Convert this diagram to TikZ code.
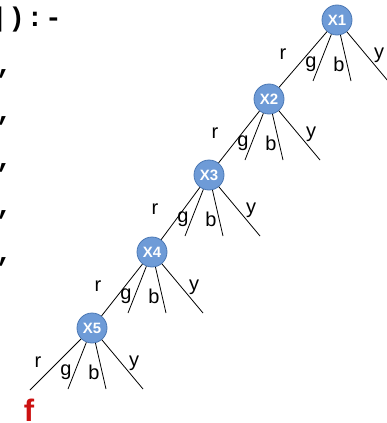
\documentclass[tikz,border=0pt]{standalone}
\usepackage{fontspec}
\setmainfont{Liberation Sans}
\newfontfamily\codefont[LetterSpace=8]{Liberation Mono}
\usepackage{xcolor}
\usepackage{tikz}
\usetikzlibrary{positioning}
\definecolor{varblue}{RGB}{110,155,215}
\definecolor{varedge}{RGB}{75,120,180}
\definecolor{failred}{RGB}{204,17,17}
\tikzstyle{var}=[circle, draw=varedge, line width=0.8pt, fill=varblue, minimum size=30pt,
        inner sep=0pt, text=white, font=\fontsize{15}{15}\selectfont\bfseries]
\tikzstyle{branch}=[line width=0.8pt]
\tikzstyle{lbl}=[inner sep=0pt, font=\fontsize{20}{20}\selectfont]
\tikzstyle{code}=[inner sep=0pt, anchor=base west, font=\fontsize{27}{27}\codefont\bfseries]

\begin{document}
\begin{tikzpicture}[x=1pt, y=-1pt, on grid]
        \useasboundingbox (0,0) rectangle (387,423);
        \clip (0,0) rectangle (387,423);
        % clause head, cut at the left edge
        \node (head) [code] at (-10,26) {]):-};
        \node (row1) [code] at ([xshift=6pt, yshift=-47pt]head.base west) {,};
        \node (row2) [code] at ([yshift=-47pt]row1.base west) {,};
        \node (row3) [code] at ([yshift=-47pt]row2.base west) {,};
        \node (row4) [code] at ([yshift=-47pt]row3.base west) {,};
        \node (row5) [code] at ([yshift=-47pt]row4.base west) {,};
        % variables
        \node (X1) [var] at (337,20) {X1};
        \node (X2) [var, below left=79pt and 68pt of X1] {X2};
        \node (X3) [var, below left=76pt and 60pt of X2] {X3};
        \node (X4) [var, below left=77pt and 57pt of X3] {X4};
        \node (X5) [var, below left=76pt and 60pt of X4] {X5};
        % loose ends of the branches
        \coordinate[below left=61pt and 24pt of X1] (X1g);
        \coordinate[below right=61pt and 14pt of X1] (X1b);
        \coordinate[below right=61pt and 51pt of X1] (X1y);
        \coordinate[below left=61pt and 24pt of X2] (X2g);
        \coordinate[below right=61pt and 14pt of X2] (X2b);
        \coordinate[below right=61pt and 51pt of X2] (X2y);
        \coordinate[below left=61pt and 24pt of X3] (X3g);
        \coordinate[below right=61pt and 14pt of X3] (X3b);
        \coordinate[below right=61pt and 51pt of X3] (X3y);
        \coordinate[below left=61pt and 24pt of X4] (X4g);
        \coordinate[below right=61pt and 14pt of X4] (X4b);
        \coordinate[below right=61pt and 51pt of X4] (X4y);
        \coordinate[below left=62pt and 62pt of X5] (X5r);
        \coordinate[below left=61pt and 24pt of X5] (X5g);
        \coordinate[below right=61pt and 14pt of X5] (X5b);
        \coordinate[below right=61pt and 51pt of X5] (X5y);
        % branches
        \draw[branch] (X1) -- (X2);
        \draw[branch] (X1) -- (X1g);
        \draw[branch] (X1) -- (X1b);
        \draw[branch] (X1) -- (X1y);
        \draw[branch] (X2) -- (X3);
        \draw[branch] (X2) -- (X2g);
        \draw[branch] (X2) -- (X2b);
        \draw[branch] (X2) -- (X2y);
        \draw[branch] (X3) -- (X4);
        \draw[branch] (X3) -- (X3g);
        \draw[branch] (X3) -- (X3b);
        \draw[branch] (X3) -- (X3y);
        \draw[branch] (X4) -- (X5);
        \draw[branch] (X4) -- (X4g);
        \draw[branch] (X4) -- (X4b);
        \draw[branch] (X4) -- (X4y);
        \draw[branch] (X5) -- (X5r);
        \draw[branch] (X5) -- (X5g);
        \draw[branch] (X5) -- (X5b);
        \draw[branch] (X5) -- (X5y);
        % branch labels
        \node (X1-r) [lbl, below left=34pt and 54pt of X1] {r};
        \node (X1-g) [lbl, below left=44pt and 26pt of X1] {g};
        \node (X1-b) [lbl, below right=44pt and 2pt of X1] {b};
        \node (X1-y) [lbl, below right=35pt and 42pt of X1] {y};
        \node (X2-r) [lbl, below left=34pt and 54pt of X2] {r};
        \node (X2-g) [lbl, below left=44pt and 26pt of X2] {g};
        \node (X2-b) [lbl, below right=44pt and 2pt of X2] {b};
        \node (X2-y) [lbl, below right=35pt and 42pt of X2] {y};
        \node (X3-r) [lbl, below left=34pt and 54pt of X3] {r};
        \node (X3-g) [lbl, below left=44pt and 26pt of X3] {g};
        \node (X3-b) [lbl, below right=44pt and 2pt of X3] {b};
        \node (X3-y) [lbl, below right=35pt and 42pt of X3] {y};
        \node (X4-r) [lbl, below left=34pt and 54pt of X4] {r};
        \node (X4-g) [lbl, below left=44pt and 26pt of X4] {g};
        \node (X4-b) [lbl, below right=44pt and 2pt of X4] {b};
        \node (X4-y) [lbl, below right=35pt and 42pt of X4] {y};
        \node (X5-r) [lbl, below left=34pt and 54pt of X5] {r};
        \node (X5-g) [lbl, below left=44pt and 26pt of X5] {g};
        \node (X5-b) [lbl, below right=44pt and 2pt of X5] {b};
        \node (X5-y) [lbl, below right=35pt and 42pt of X5] {y};
        % failure
        \node (fail) [inner sep=0pt, anchor=base, text=failred,
          font=\fontsize{31}{31}\selectfont\bfseries] at (29,421) {f};
\end{tikzpicture}
\end{document}
